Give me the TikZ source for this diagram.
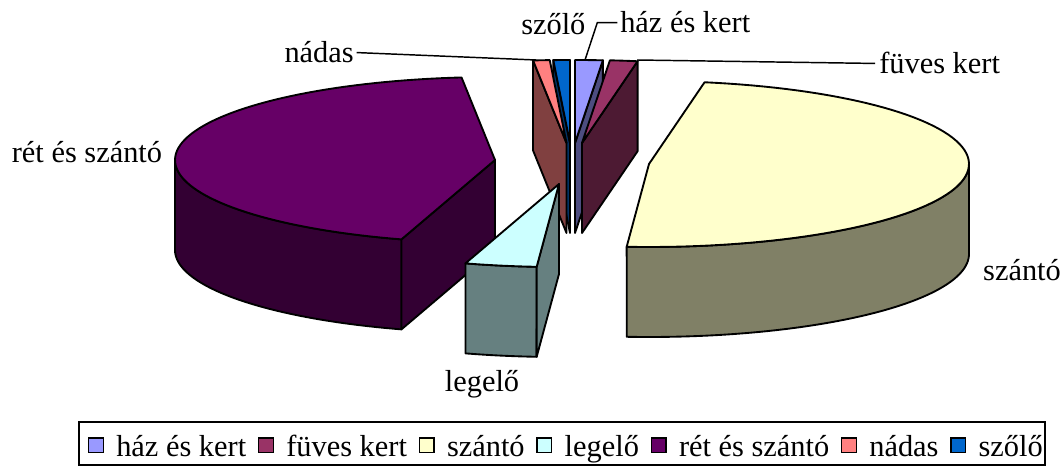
\documentclass[tikz,border=0pt]{standalone}
\usepackage{fontspec}
\setmainfont{Liberation Serif}
\definecolor{hazTop}{HTML}{9999FF}\definecolor{hazSide}{HTML}{4D4D80}
\definecolor{fuvTop}{HTML}{993366}\definecolor{fuvSide}{HTML}{4D1A33}
\definecolor{szaTop}{HTML}{FFFFCC}\definecolor{szaSide}{HTML}{808066}
\definecolor{legTop}{HTML}{CCFFFF}\definecolor{legSide}{HTML}{668080}
\definecolor{retTop}{HTML}{660066}\definecolor{retSide}{HTML}{330033}
\definecolor{nadTop}{HTML}{FF8080}\definecolor{nadSide}{HTML}{804040}
\definecolor{szoTop}{HTML}{0066CC}\definecolor{szoSide}{HTML}{003366}
\newcommand\pieRX{320}
\newcommand\pieRY{83}
\newcommand\pieH{90}
% top face: cx cy a1 a2 colour
\newcommand\pieTop[5]{%
  \filldraw[pie,fill=#5] ({#1},{#2}) -- plot[domain=#3:#4,samples=80] ({#1+\pieRX*cos(\x)},{#2-\pieRY*sin(\x)}) -- cycle;}
% outer face: cx cy s e colour
\newcommand\pieOuter[5]{%
  \filldraw[pie,fill=#5] plot[domain=#3:#4,samples=80] ({#1+\pieRX*cos(\x)},{#2-\pieRY*sin(\x)})
    -- plot[domain=#4:#3,samples=80] ({#1+\pieRX*cos(\x)},{#2+\pieH-\pieRY*sin(\x)}) -- cycle;}
% radial face: cx cy angle colour
\newcommand\pieRad[4]{%
  \filldraw[pie,fill=#4] ({#1},{#2}) -- ({#1+\pieRX*cos(#3)},{#2-\pieRY*sin(#3)})
    -- ({#1+\pieRX*cos(#3)},{#2+\pieH-\pieRY*sin(#3)}) -- ({#1},{#2+\pieH}) -- cycle;}
\begin{document}
\begin{tikzpicture}[x=0.75pt,y=-0.75pt,
  pie/.style={draw=black,line width=1.4pt,line join=round},
  leader/.style={draw=black,line width=1.1pt},
  lbl/.style={inner sep=0pt,font=\fontsize{22.8}{27}\selectfont},
  mk/.style={draw=black,line width=1pt,minimum size=11pt,inner sep=0pt}]
\useasboundingbox (0,0) rectangle (1064,466);
\fill[white] (0,0) rectangle (1064,466);
% szőlő
\pieRad{570}{143}{93}{szoSide}
\pieTop{570}{143}{90}{93}{szoTop}
% ház és kert
\pieRad{575}{143}{85}{hazSide}
\pieTop{575}{143}{85}{90}{hazTop}
% nádas
\pieRad{566.5}{143}{96}{nadSide}
\pieTop{566.5}{143}{93}{96}{nadTop}
% füves kert
\pieRad{582}{143}{80}{fuvSide}
\pieTop{582}{143}{80}{85}{fuvTop}
% rét és szántó
\pieOuter{495}{160}{180}{253}{retSide}
\pieRad{495}{160}{253}{retSide}
\pieTop{495}{160}{96}{253}{retTop}
% szántó
\pieOuter{649}{164}{266}{360}{szaSide}
\pieTop{649}{164}{-94}{80}{szaTop}
% legelő
\pieOuter{559}{184}{253}{266}{legSide}
\pieRad{559}{184}{266}{legSide}
\pieTop{559}{184}{253}{266}{legTop}
% leader ends
\coordinate (nadEnd) at (536,60);
\coordinate (hazEnd) at (585,60);
\coordinate (fuvEnd) at (637,60);
% labels
\node[lbl,anchor=base east] (nadas) at (354,63) {nádas};
\node[lbl,anchor=base west] (szolo) at (521,35) {szőlő};
\node[lbl,anchor=base west] (haz) at (620,33) {ház és kert};
\node[lbl,anchor=base west] (fuves) at (879,74) {füves kert};
\node[lbl,anchor=base] (szanto) at (1022,281) {szántó};
\node[lbl,anchor=base] (legelo) at (482,392) {legelő};
\node[lbl,anchor=base] (ret) at (87,163) {rét és szántó};
\draw[leader] ([xshift=2pt]nadas.east) -- (nadEnd);
\draw[leader] ([xshift=-2pt]haz.west) -- ++(-20,0) -- (hazEnd);
\draw[leader] ([xshift=-3pt]fuves.west) -- (fuvEnd);
% legend
\draw[line width=1.1pt] (79,422) rectangle (1045,465);
\node[mk,fill=hazTop] (m1) at (96,445.5) {};
\node[lbl,anchor=base west] (t1) at ([shift={(12,11)}]m1.east) {ház és kert};
\node[mk,fill=fuvTop] (m2) at ([shift={(19.5,-11)}]t1.base east) {};
\node[lbl,anchor=base west] (t2) at ([shift={(12,11)}]m2.east) {füves kert};
\node[mk,fill=szaTop] (m3) at ([shift={(19.5,-11)}]t2.base east) {};
\node[lbl,anchor=base west] (t3) at ([shift={(12,11)}]m3.east) {szántó};
\node[mk,fill=legTop] (m4) at ([shift={(19.5,-11)}]t3.base east) {};
\node[lbl,anchor=base west] (t4) at ([shift={(12,11)}]m4.east) {legelő};
\node[mk,fill=retTop] (m5) at ([shift={(19.5,-11)}]t4.base east) {};
\node[lbl,anchor=base west] (t5) at ([shift={(12,11)}]m5.east) {rét és szántó};
\node[mk,fill=nadTop] (m6) at ([shift={(19.5,-11)}]t5.base east) {};
\node[lbl,anchor=base west] (t6) at ([shift={(12,11)}]m6.east) {nádas};
\node[mk,fill=szoTop] (m7) at ([shift={(19.5,-11)}]t6.base east) {};
\node[lbl,anchor=base west] (t7) at ([shift={(12,11)}]m7.east) {szőlő};
\end{tikzpicture}
\end{document}
